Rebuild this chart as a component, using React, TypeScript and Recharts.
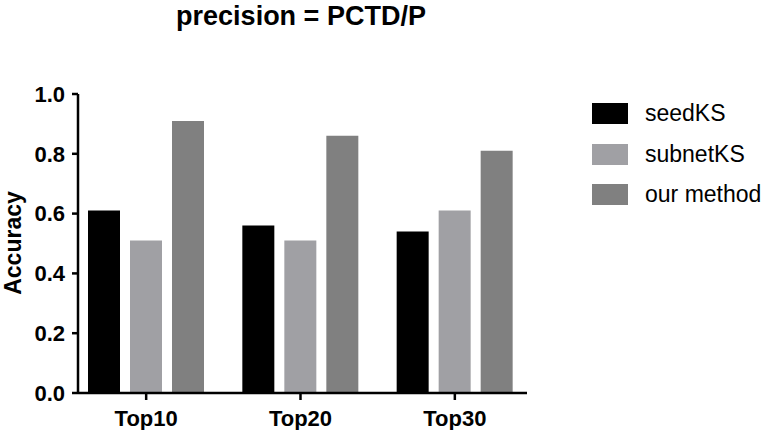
import { BarChart, Bar, XAxis, YAxis } from 'recharts'

const CATEGORIES = ['Top10', 'Top20', 'Top30']
const SEED_KS = [0.61, 0.56, 0.54]
const SUBNET_KS = [0.51, 0.51, 0.61]
const OUR_METHOD = [0.91, 0.86, 0.81]
const Y_TICKS = [0, 0.2, 0.4, 0.6, 0.8, 1.0]

const SERIES = [
  { key: 'seedKS', name: 'seedKS', color: '#000000' },
  { key: 'subnetKS', name: 'subnetKS', color: '#a0a0a4' },
  { key: 'ourMethod', name: 'our method', color: '#808080' },
]

const FONT = '"Liberation Sans", Arial, Helvetica, sans-serif'

const data = CATEGORIES.map((c, i) => ({
  name: c,
  seedKS: SEED_KS[i],
  subnetKS: SUBNET_KS[i],
  ourMethod: OUR_METHOD[i],
}))

function YLabel() {
  return (
    <text
      x={13}
      y={243}
      transform="rotate(-90, 13, 243)"
      textAnchor="middle"
      dominantBaseline="central"
      fontFamily={FONT}
      fontWeight="bold"
      fontSize={23}
      fill="#000"
    >
      Accuracy
    </text>
  )
}

export default function App() {
  return (
    <div style={{ position: 'absolute', left: 0, top: 0, width: 765, height: 430, background: '#fff' }}>
      <div
        style={{
          position: 'absolute', left: 0, width: 602, top: 0, textAlign: 'center',
          fontFamily: FONT, fontWeight: 'bold', fontSize: 27, lineHeight: '32px', color: '#000',
        }}
      >
        precision = PCTD/P
      </div>
      <BarChart
        width={765}
        height={430}
        data={data}
        margin={{ top: 94, right: 238, left: 0, bottom: 0 }}
        barSize={32}
        barGap={10}
      >
        <XAxis
          dataKey="name"
          height={37}
          padding={{ left: -9, right: -5 }}
          axisLine={{ stroke: '#000', strokeWidth: 2.5 }}
          tickLine={{ stroke: '#000', strokeWidth: 2.5 }}
          tickSize={7}
          tickMargin={10}
          tick={{ fill: '#000', fontSize: 22, fontWeight: 'bold', fontFamily: FONT }}
        />
        <YAxis
          width={78}
          domain={[0, 1]}
          ticks={Y_TICKS}
          interval={0}
          tickFormatter={(v: number) => v.toFixed(1)}
          axisLine={{ stroke: '#000', strokeWidth: 2.5 }}
          tickLine={{ stroke: '#000', strokeWidth: 2.5 }}
          tickSize={6}
          tickMargin={7}
          tick={{ fill: '#000', fontSize: 22, fontWeight: 'bold', fontFamily: FONT }}
          label={<YLabel />}
        />
        {SERIES.map((s) => (
          <Bar key={s.key} dataKey={s.key} name={s.name} fill={s.color} isAnimationActive={false} />
        ))}
      </BarChart>
      <div style={{ position: 'absolute', left: 592, top: 103, fontFamily: FONT, fontSize: 23, color: '#000' }}>
        {SERIES.map((s) => (
          <div key={s.key} style={{ display: 'flex', alignItems: 'center', height: 21, marginBottom: 19.5 }}>
            <div style={{ width: 36, height: 21, background: s.color, marginRight: 17 }} />
            <span style={{ whiteSpace: 'nowrap' }}>{s.name}</span>
          </div>
        ))}
      </div>
    </div>
  )
}
